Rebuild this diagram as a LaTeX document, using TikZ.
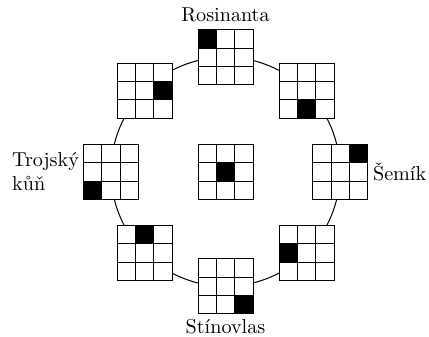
\documentclass[tikz,border=0pt]{standalone}
\usepackage{fontspec}
\usetikzlibrary{positioning, backgrounds}
\newcommand{\cellsz}{0.32cm}

\begin{document}
\begin{tikzpicture}[
  board/.style={draw, fill=white, minimum size=0.96cm, inner sep=0pt, outer sep=0pt},
  horse/.style={inner sep=2pt, align=left},
  move/.style={line width=0.5pt},
]
  \useasboundingbox (-3.935,-2.867) rectangle (3.551,2.997);

  % Boards round the circle
  \node[board] (bN) at (90:2) {};
  \node[board] (bNW) at (135:2) {};
  \node[board] (bW) at (180:2) {};
  \node[board] (bSW) at (225:2) {};
  \node[board] (bS) at (270:2) {};
  \node[board] (bSE) at (315:2) {};
  \node[board] (bE) at (0:2) {};
  \node[board] (bNE) at (45:2) {};

  % Centre
  \node[board] (bC) at (0,0) {};

  % Cells and the knight on each board (column/row from top left)
  \foreach \n/\c/\r in {bN/1/1, bNW/3/2, bW/1/3, bSW/2/1, bS/3/3, bSE/1/2, bE/3/1, bNE/2/3, bC/2/2} {
    \begin{scope}[shift={(\n.north west)}]
      \fill ({(\c-1)*\cellsz},{-\r*\cellsz}) rectangle ++(\cellsz,\cellsz);
      \foreach \k in {1,2} {
        \draw ({\k*\cellsz},0) -- ++(0,-0.96cm);
        \draw (0,{-\k*\cellsz}) -- ++(0.96cm,0);
      }
    \end{scope}
  }

  % Names
  \node[horse, above=1.5pt of bN] (rosinanta) {Rosinanta};
  \node[horse, right=0.5pt of bE] (semik) {Šemík};
  \node[horse, below=0.5pt of bS] (stinovlas) {Stínovlas};
  \node[horse, left=0pt of bW] (trojsky) {Trojský\\kůň};

  % Knight moves
  \begin{scope}[on background layer]
    \foreach \a/\b in {bN/bNW, bNW/bW, bW/bSW, bSW/bS, bS/bSE, bSE/bE, bE/bNE, bNE/bN}
      \draw[move] (\a.center) to[bend right=22.5, looseness=0.885] (\b.center);
  \end{scope}
\end{tikzpicture}
\end{document}
